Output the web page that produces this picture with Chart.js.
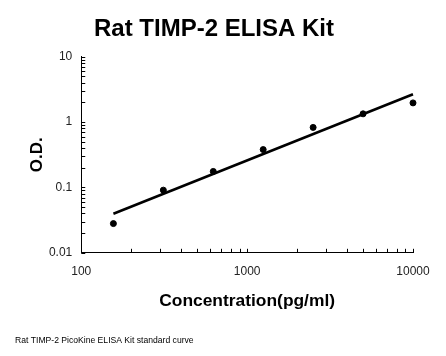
<!DOCTYPE html>
<html>
<head>
<meta charset="utf-8">
<script src="https://cdn.jsdelivr.net/npm/chart.js@4/dist/chart.umd.min.js"></script>
<style>
  html, body { margin: 0; padding: 0; background: #fff; }
  #wrap { width: 446px; height: 356px; }
</style>
</head>
<body>
<div id="wrap"><canvas id="c" width="446" height="356"></canvas></div>
<script>
// ---- data ----
const concentrations = [156.25, 312.5, 625, 1250, 2500, 5000, 10000];
const odValues = [0.028, 0.091, 0.176, 0.38, 0.83, 1.34, 1.97];
const fitX = [156.25, 10000];
const fitY = [0.0395, 2.67];
const xTickValues = [100, 1000, 10000];
const xTickLabels = ['100', '1000', '10000'];
const yTickValues = [0.01, 0.1, 1, 10];
const yTickLabels = ['0.01', '0.1', '1', '10'];
const titleText = 'Rat TIMP-2 ELISA Kit';
const xTitle = 'Concentration(pg/ml)';
const yTitle = 'O.D.';
const footnote = 'Rat TIMP-2 PicoKine ELISA Kit standard curve';

const FONT = "'Liberation Sans', Arial, sans-serif";

const minorTicks = {
  id: 'minorTicks',
  afterDraw(chart) {
    const ctx = chart.ctx;
    const xs = chart.scales.x, ys = chart.scales.y;
    const area = chart.chartArea;
    ctx.save();
    ctx.strokeStyle = '#000';
    ctx.lineWidth = 1;
    ctx.beginPath();
    const len = 4;
    // x axis ticks (inward, upward)
    for (let d = 100; d <= 10000; d *= 10) {
      for (let k = 1; k <= 9; k++) {
        const v = k * d;
        if (v > 10000) break;
        const px = Math.round(xs.getPixelForValue(v)) + 0.5;
        ctx.moveTo(px, area.bottom);
        ctx.lineTo(px, area.bottom - len);
      }
    }
    // y axis ticks (inward, to the right)
    for (let d = 0.01; d <= 10.0001; d *= 10) {
      for (let k = 1; k <= 9; k++) {
        const v = k * d;
        if (v > 10.0001) break;
        const py = Math.round(ys.getPixelForValue(v)) + 0.5;
        ctx.moveTo(area.left, py);
        ctx.lineTo(area.left + len, py);
      }
    }
    ctx.stroke();
    ctx.restore();
  }
};

new Chart(document.getElementById('c'), {
  type: 'scatter',
  data: {
    datasets: [
      {
        label: 'Fit',
        type: 'line',
        data: fitX.map((x, i) => ({ x: x, y: fitY[i] })),
        borderColor: '#000',
        borderWidth: 2.6,
        pointRadius: 0,
        fill: false,
        tension: 0,
        clip: false,
        order: 2
      },
      {
        label: 'Standards',
        data: concentrations.map((x, i) => ({ x: x, y: odValues[i] })),
        backgroundColor: '#000',
        borderColor: '#000',
        pointRadius: 3,
        pointHoverRadius: 3,
        clip: false,
        order: 1
      }
    ]
  },
  options: {
    responsive: false,
    animation: false,
    devicePixelRatio: 1,
    layout: { padding: { left: 15, right: 33, top: 0, bottom: 0 } },
    plugins: {
      legend: { display: false },
      tooltip: { enabled: false },
      title: {
        display: true,
        text: titleText,
        color: '#000',
        font: { family: FONT, size: 24, weight: 'bold' },
        padding: { top: 15, bottom: 13 }
      },
      subtitle: {
        display: true,
        text: footnote,
        position: 'bottom',
        align: 'start',
        color: '#000',
        font: { family: FONT, size: 8.6, weight: 'normal' },
        padding: { top: 24, bottom: 10 }
      }
    },
    scales: {
      x: {
        type: 'logarithmic',
        min: 100,
        max: 10000,
        afterBuildTicks(scale) { scale.ticks = xTickValues.map(v => ({ value: v })); },
        grid: { display: false, drawTicks: false },
        border: { display: true, color: '#000', width: 1 },
        ticks: {
          color: '#222',
          font: { family: FONT, size: 12 },
          padding: 12,
          maxRotation: 0,
          autoSkip: false,
          callback(v) { const i = xTickValues.indexOf(v); return i >= 0 ? xTickLabels[i] : ''; }
        },
        title: {
          display: true,
          text: xTitle,
          color: '#000',
          font: { family: FONT, size: 17.4, weight: 'bold' },
          padding: { top: -0.6, bottom: 0.2 }
        }
      },
      y: {
        type: 'logarithmic',
        min: 0.01,
        max: 10,
        afterBuildTicks(scale) { scale.ticks = yTickValues.map(v => ({ value: v })); },
        grid: { display: false, drawTicks: false },
        border: { display: true, color: '#000', width: 1 },
        ticks: {
          color: '#222',
          font: { family: FONT, size: 12 },
          padding: 9,
          autoSkip: false,
          callback(v) {
            const i = yTickValues.findIndex(t => Math.abs(t - v) < 1e-9);
            return i >= 0 ? yTickLabels[i] : '';
          }
        },
        title: {
          display: true,
          text: yTitle,
          color: '#000',
          font: { family: FONT, size: 17, weight: 'bold' },
          padding: { top: 12.5, bottom: -8 }
        }
      }
    }
  },
  plugins: [minorTicks]
});
</script>
</body>
</html>
